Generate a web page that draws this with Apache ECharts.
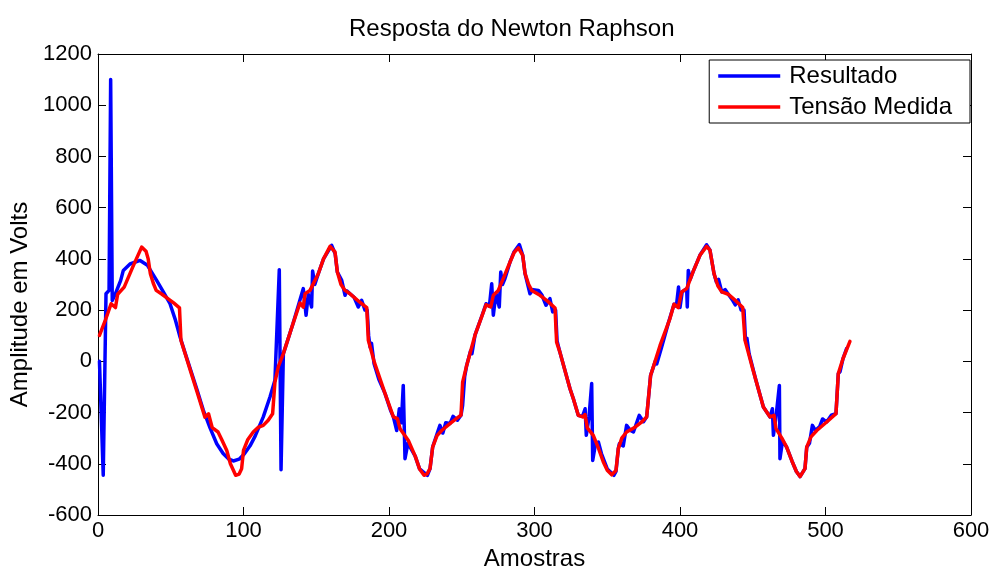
<!DOCTYPE html>
<html><head><meta charset="utf-8">
<script src="https://cdn.jsdelivr.net/npm/echarts@6/dist/echarts.min.js"></script>
<style>html,body{margin:0;padding:0;background:#fff}#c{width:1000px;height:568px}</style>
</head><body><div id="c"></div>
<script>
const titleText = 'Resposta do Newton Raphson';
const xLabel = 'Amostras';
const yLabel = 'Amplitude em Volts';
const seriesNames = ['Resultado', 'Tensão Medida'];
const xRange = [0, 600, 100];
const yRange = [-600, 1200, 200];

// [amostra, volts]
const resultado = [
[1,0],[3.6,-445],[5.5,264],[7.6,277],[8.7,1100],[9.8,238],[12,264],[15.6,316],[17.4,355],[22,380],[28.9,394],[34,375],[40.3,316],[45,270],[49.5,225],[53,165],[56.4,95],[60,30],[64,-40],[68,-110],[72.4,-191],[77,-260],[81.6,-322],[86,-360],[90,-382],[93,-389],[97,-382],[100.5,-362],[104.5,-330],[108,-292],[113.6,-217],[118.2,-139],[121.6,-74],[124.6,358],[125.8,-423],[127.4,30],
[134,147],[138.4,232],[141.1,284],[143,180],[144.5,262],[146.8,212],[147.5,353],[149,300],[151.4,342],[155,400],[160.6,453],[163,420],[164.5,349],[167.5,316],[169.8,258],[171,275],[173.2,264],[176,250],[178.9,212],[181.2,238],[183.5,200],[185,200],[186,100],[187,56],[188,70],[189.7,-8],[193,-70],[197.3,-126],[201,-190],[203,-217],[205.3,-270],[207.1,-185],[208.5,-240],[209.8,-94],[211,-380],[213,-320],[215,-340],[218,-370],[221,-420],[226.4,-445],[228.2,-419],[230,-335],[232,-300],[235,-250],[237,-280],[239,-240],[241.9,-243],[244,-215],[247,-230],[249.5,-210],
[250.6,-172],[252,-60],[253.4,-16],[256,40],[257,30],[259.1,102],[264,180],[266.7,225],[269,215],[270.6,303],[271.7,180],[273.5,265],[275.8,212],[276.8,349],[278,300],[279.7,323],[283.2,388],[286,428],[289.6,456],[291.9,414],[293.5,343],[296.9,264],[299,280],[302.7,277],[305,260],[307.9,219],[310.6,245],[312.5,193],[314.5,200],[315.5,80],[317.5,35],[324.4,-107],[326.7,-146],[330.1,-211],[333,-215],[334.8,-185],[335.6,-289],[337.5,-215],[339.3,-87],[340,-387],[342,-320],[343.9,-315],[346,-360],[350,-420],[354.6,-445],[356,-430],[357.6,-341],[358.3,-322],[361,-330],[363.3,-250],[366,-270],[368,-276],[372,-211],[374.9,-236],[377.1,-217],
[379.8,-55],[383,0],[384,-10],[387.4,56],[392,150],[395.9,223],[397.5,215],[399,290],[400,210],[401.5,271],[404.6,284],[405,212],[405.7,355],[407,320],[409,350],[413.7,414],[418.3,455],[420.6,434],[423.4,342],[425,310],[426.5,320],[428.7,271],[431,280],[433.2,262],[436,240],[438,220],[440,240],[442,200],[444,200],[445,82],[446,90],[447.5,30],[452,-70],[457.3,-178],[461.9,-217],[463.5,-185],[464.2,-289],[466,-215],[468.3,-94],[468.7,-380],[470.5,-310],[473.3,-335],[477,-390],[480,-430],[482.5,-450],[485.9,-419],[487.1,-335],[489,-320],[491,-250],[493,-270],[496,-255],[498,-225],[500.8,-237],[504,-210],[507.2,-204],[508.8,-48],[510,-40],[512,10],[514.5,50]
];

const tensaoMedida = [
[1,101],[5,160],[9,225],[12,210],[13.5,262],[18,290],[24,370],[30,446],[33,430],[34.5,400],[36,342],[38,305],[40,277],[44,262],[48,245],[52,228],[56,209],[57,82],[60,28],[64,-45],[68,-118],[73.5,-218],[76,-205],[78.5,-259],[82.5,-276],[85,-305],[88.5,-348],[91,-400],[94.6,-445],[97,-440],[98.7,-419],[100,-348],[103,-305],[106.7,-276],[110,-258],[113.6,-250],[117,-230],[120,-205],[121.6,-81],[124,-20],[127.4,30],
[134,147],[138.8,228],[141.1,212],[142.3,264],[145.7,277],[151.4,342],[155,400],[159.5,449],[162.9,427],[164.5,349],[167,300],[169.8,277],[173.2,264],[178,240],[184.7,210],[185.8,82],[190,-5],[197.3,-126],[203,-217],[205.8,-224],[207.6,-263],[213.3,-309],[218,-370],[221,-420],[224.1,-445],[226,-440],[228.2,-419],[230,-335],[233,-290],[236.2,-270],[241.9,-243],[246,-225],[249.5,-210],
[250.6,-81],[253.4,-16],[259.1,102],[266.7,221],[269.9,212],[271.7,258],[275.1,277],[279,330],[283.2,388],[286,425],[288.9,443],[291.9,414],[293.5,343],[296,300],[298.1,277],[303.8,258],[309,235],[314.1,208],[315.2,75],[317.5,35],[324.4,-107],[326.7,-146],[330.1,-211],[333.1,-217],[334.7,-208],[336.3,-260],[340.4,-289],[344,-340],[347.3,-393],[350,-425],[353.1,-443],[356,-426],[357.6,-341],[360,-300],[363.3,-276],[369.1,-257],[374,-235],[377.1,-217],
[379.8,-55],[386.3,62],[393.1,167],[395.9,223],[398.8,210],[401.1,271],[404.6,284],[409,350],[413.7,414],[418.3,449],[420.6,434],[423.4,342],[426,295],[428.7,271],[433.2,262],[438,238],[443.1,210],[444.7,82],[450,-30],[457.3,-178],[461.9,-217],[464.6,-211],[466,-263],[470,-300],[473.3,-335],[477,-390],[480,-430],[482.5,-450],[485.9,-419],[487.1,-335],[490,-295],[494,-270],[500.8,-237],[507.2,-204],[508.8,-48],[512,10],[516.8,78]
];

const FONT = "'Liberation Sans', Arial, Helvetica, sans-serif";
const chart = echarts.init(document.getElementById('c'), null, {renderer: 'canvas'});
const axisCommon = {
  axisLine: {show: true, onZero: false, lineStyle: {color: '#000', width: 1}},
  axisTick: {show: true, inside: true, length: 8, lineStyle: {color: '#000'}},
  splitLine: {show: false}
};
const plain = v => String(v);
chart.setOption({
  animation: false,
  backgroundColor: '#fff',
  textStyle: {fontFamily: FONT},
  title: {
    text: titleText, left: 344, top: 12,
    textStyle: {fontFamily: FONT, fontSize: 24, fontWeight: 'normal', color: '#000'}
  },
  grid: {left: 98, right: 29, top: 54, bottom: 53, containLabel: false, outerBoundsMode: 'none'},
  legend: {
    orient: 'vertical', right: 30, top: 60,
    icon: 'rect', itemWidth: 62, itemHeight: 3.5, itemGap: 7,
    padding: [4, 18, 4, 9],
    borderColor: '#000', borderWidth: 1, backgroundColor: '#fff',
    textStyle: {fontFamily: FONT, fontSize: 24, color: '#000', padding: [0, 0, 0, 4]},
    data: seriesNames
  },
  xAxis: [
    Object.assign({
      type: 'value', min: xRange[0], max: xRange[1], interval: xRange[2], position: 'bottom',
      name: xLabel, nameLocation: 'middle', nameGap: 30,
      nameTextStyle: {fontFamily: FONT, fontSize: 24, color: '#000'},
      axisLabel: {fontFamily: FONT, fontSize: 22, color: '#000', margin: 5, formatter: plain}
    }, axisCommon),
    Object.assign({
      type: 'value', min: xRange[0], max: xRange[1], interval: xRange[2], position: 'top',
      axisLabel: {show: false}
    }, axisCommon)
  ],
  yAxis: [
    Object.assign({
      type: 'value', min: yRange[0], max: yRange[1], interval: yRange[2], position: 'left',
      name: yLabel, nameLocation: 'middle', nameGap: 61, nameRotate: 90,
      nameTextStyle: {fontFamily: FONT, fontSize: 24, color: '#000', padding: [0, 40, 0, 0]},
      axisLabel: {fontFamily: FONT, fontSize: 22, color: '#000', margin: 6, formatter: plain}
    }, axisCommon),
    Object.assign({
      type: 'value', min: yRange[0], max: yRange[1], interval: yRange[2], position: 'right',
      axisLabel: {show: false}
    }, axisCommon)
  ],
  series: [
    {
      name: seriesNames[0], type: 'line', data: resultado, showSymbol: false, symbol: 'none',
      xAxisIndex: 0, yAxisIndex: 0,
      lineStyle: {color: '#0000ff', width: 3.5, join: 'round', cap: 'round'},
      itemStyle: {color: '#0000ff'}, z: 2
    },
    {
      name: seriesNames[1], type: 'line', data: tensaoMedida, showSymbol: false, symbol: 'none',
      xAxisIndex: 0, yAxisIndex: 0,
      lineStyle: {color: '#ff0000', width: 3.5, join: 'round', cap: 'round'},
      itemStyle: {color: '#ff0000'}, z: 3
    }
  ]
});
</script></body></html>
